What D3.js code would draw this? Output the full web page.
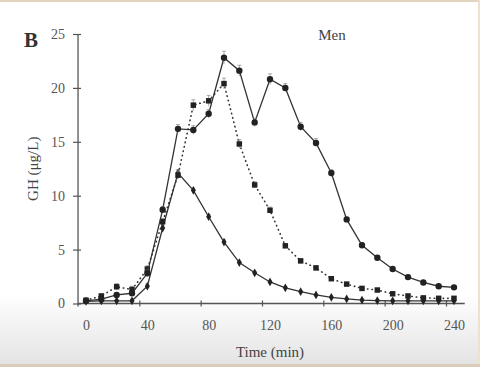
<!DOCTYPE html>
<html>
<head>
<meta charset="utf-8">
<script src="https://cdn.jsdelivr.net/npm/d3@7"></script>
<style>
  html, body { margin: 0; padding: 0; background: #fff; }
  svg { display: block; }
</style>
</head>
<body>
<div id="chart"></div>
<script>
// time points (min)
var times = [0, 10, 20, 30, 40, 50, 60, 70, 80, 90, 100, 110, 120, 130, 140, 150, 160, 170, 180, 190, 200, 210, 220, 230, 240];

// GH values (ug/L)
var circleVals = [0.25, 0.4, 0.8, 0.95, 2.8, 8.7, 16.2, 16.1, 17.6, 22.8, 21.6, 16.8, 20.8, 20.0, 16.4, 14.9, 12.1, 7.8, 5.4, 4.25, 3.2, 2.45, 1.95, 1.6, 1.5];
var squareVals = [0.3, 0.7, 1.55, 1.3, 3.2, 7.6, 11.9, 18.4, 18.8, 20.4, 14.8, 11.0, 8.65, 5.35, 3.95, 3.3, 2.3, 1.8, 1.4, 1.25, 0.9, 0.7, 0.52, 0.48, 0.48];
var diamondVals = [0.2, 0.25, 0.25, 0.25, 1.6, 7.0, 12.1, 10.5, 8.05, 5.7, 3.8, 2.85, 2.0, 1.45, 1.1, 0.8, 0.57, 0.42, 0.32, 0.27, 0.25, 0.25, 0.25, 0.25, 0.25];

// error bars (SEM)
var circleErr = [0.1, 0.1, 0.1, 0.1, 0.3, 0.3, 0.4, 0.4, 0.4, 0.6, 0.5, 0.4, 0.5, 0.4, 0.4, 0.4, 0.3, 0.2, 0.2, 0.2, 0.1, 0.1, 0.1, 0.1, 0.1];
var squareErr = [0.1, 0.1, 0.3, 0.3, 0.3, 0.3, 0.4, 0.5, 0.5, 0.5, 0.4, 0.3, 0.3, 0.2, 0.2, 0.2, 0.1, 0.1, 0.1, 0.1, 0.1, 0.1, 0.1, 0.1, 0.1];
var diamondErr = [0.05, 0.05, 0.05, 0.05, 0.2, 0.3, 0.3, 0.2, 0.2, 0.2, 0.1, 0.1, 0.1, 0.1, 0.1, 0.05, 0.05, 0.05, 0.05, 0.05, 0.05, 0.05, 0.05, 0.05, 0.05];

var xTicks = [0, 40, 80, 120, 160, 200, 240];
var yTicks = [0, 5, 10, 15, 20, 25];

var width = 480, height = 367;
var ink = '#333';
var font = '"Liberation Serif", "Times New Roman", serif';

var svg = d3.select('#chart').append('svg')
    .attr('width', width)
    .attr('height', height);

// photo-like background: white fading to grey at bottom
var defs = svg.append('defs');
var grad = defs.append('linearGradient')
    .attr('id', 'bg')
    .attr('x1', 0).attr('y1', 0).attr('x2', 0).attr('y2', 1);
grad.append('stop').attr('offset', '0.8').attr('stop-color', '#ffffff');
grad.append('stop').attr('offset', '0.99').attr('stop-color', '#e4e4e4');
svg.append('rect').attr('width', width).attr('height', height).attr('fill', 'url(#bg)');
svg.append('rect').attr('width', width).attr('height', 2).attr('fill', '#e2d4bf');
svg.append('rect').attr('x', width - 2).attr('width', 2).attr('height', height).attr('fill', '#eee2cf');
svg.append('rect').attr('y', height - 3).attr('width', width).attr('height', 3).attr('fill', '#d9ccb8');

var x = d3.scaleLinear().domain([0, 240]).range([86, 454]);
var y = d3.scaleLinear().domain([0, 25]).range([303.5, 34]);

// y axis
var yAxis = d3.axisLeft(y).tickValues(yTicks).tickSizeInner(5).tickSizeOuter(0).tickPadding(8);
var gy = svg.append('g').attr('transform', 'translate(' + (x(-5.2)) + ',0)').call(yAxis);
gy.select('.domain').attr('d', 'M0,' + y(25) + 'V' + (y(0) + 3)).attr('stroke', '#555').attr('stroke-width', 1.3);
gy.selectAll('.tick line').attr('x1', 3).attr('stroke', '#555').attr('stroke-width', 1.2);
gy.selectAll('text').attr('font-family', font).attr('font-size', 14).attr('fill', '#555');

// x axis
var xAxis = d3.axisBottom(x).tickValues(xTicks).tickSizeInner(3).tickSizeOuter(0).tickPadding(14);
var gx = svg.append('g').attr('transform', 'translate(0,' + y(0) + ')').call(xAxis);
gx.select('.domain').attr('d', 'M' + x(-5.2) + ',0H' + x(247)).attr('stroke', '#555').attr('stroke-width', 1.3);
gx.selectAll('.tick line').attr('y1', -3).attr('transform', 'translate(-8,0)').attr('stroke', '#555').attr('stroke-width', 1.2);
gx.selectAll('.tick').filter(function(d) { return d === 0; }).select('line').remove();
gx.selectAll('text').attr('font-family', font).attr('font-size', 14).attr('fill', '#555');

// titles
svg.append('text')
    .attr('transform', 'translate(38,' + y(12.5) + ') rotate(-90)')
    .attr('text-anchor', 'middle')
    .attr('font-family', font).attr('font-size', 15).attr('fill', '#444')
    .text('GH (\u03bcg/L)');
svg.append('text')
    .attr('x', 270).attr('y', 357)
    .attr('text-anchor', 'middle')
    .attr('font-family', font).attr('font-size', 15).attr('fill', '#444')
    .text('Time (min)');
svg.append('text')
    .attr('x', 24).attr('y', 47)
    .attr('font-family', font).attr('font-size', 21).attr('font-weight', 'bold').attr('fill', '#333')
    .text('B');
svg.append('text')
    .attr('x', 332).attr('y', 40)
    .attr('text-anchor', 'middle')
    .attr('font-family', font).attr('font-size', 15).attr('fill', '#444')
    .text('Men');

function series(vals, errs, dash, shape, size) {
    var pts = times.map(function(t, i) { return { t: t, v: vals[i], e: errs[i] }; });
    var line = d3.line().x(function(d) { return x(d.t); }).y(function(d) { return y(d.v); });
    var g = svg.append('g');
    g.append('path')
        .datum(pts)
        .attr('d', line)
        .attr('fill', 'none')
        .attr('stroke', ink)
        .attr('stroke-width', dash ? 1.6 : 1.3)
        .attr('stroke-dasharray', dash)
        .attr('stroke-linecap', dash ? 'round' : null);
    // error bars
    var eb = g.selectAll('.eb').data(pts).enter().append('g');
    eb.append('line')
        .attr('x1', function(d) { return x(d.t); }).attr('x2', function(d) { return x(d.t); })
        .attr('y1', function(d) { return y(d.v - d.e); })
        .attr('y2', function(d) { return y(d.v + d.e); })
        .attr('stroke', '#888').attr('stroke-width', 0.7);
    eb.append('line')
        .attr('x1', function(d) { return x(d.t) - 2; }).attr('x2', function(d) { return x(d.t) + 2; })
        .attr('y1', function(d) { return y(d.v + d.e); })
        .attr('y2', function(d) { return y(d.v + d.e); })
        .attr('stroke', '#888').attr('stroke-width', 0.7);
    g.selectAll('.pt').data(pts).enter().append('path')
        .attr('transform', function(d) { return 'translate(' + x(d.t) + ',' + y(d.v) + ')'; })
        .attr('d', d3.symbol().type(shape).size(size))
        .attr('fill', '#222');
}

series(diamondVals, diamondErr, null, d3.symbolDiamond, 22);
series(squareVals, squareErr, '0.5,4', d3.symbolSquare, 30);
series(circleVals, circleErr, null, d3.symbolCircle, 32);
</script>
</body>
</html>
